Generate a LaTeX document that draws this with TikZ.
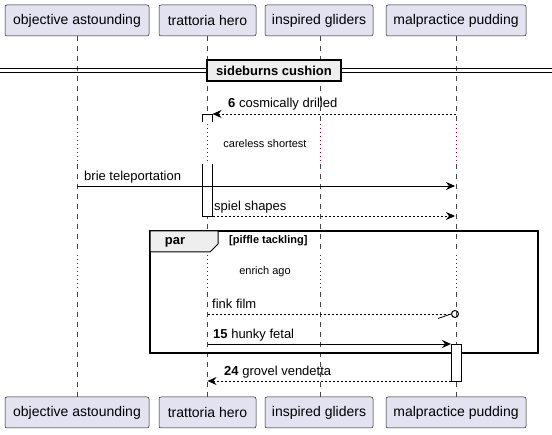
\documentclass[tikz,border=0pt]{standalone}
\usepackage{fontspec}
\setmainfont{Liberation Sans}
\usetikzlibrary{arrows.meta}
\definecolor{partfill}{HTML}{E2E2F0}
\definecolor{partdraw}{HTML}{181818}
\definecolor{delaycol}{HTML}{A80036}
\definecolor{grpfill}{HTML}{EEEEEE}
\tikzset{
  part/.style={draw=partdraw, fill=partfill, rounded corners=2pt, line width=0.5pt,
    minimum height=31pt, inner sep=0pt, font=\fontsize{14}{16}\selectfont},
  lifeline/.style={draw=partdraw!80, line width=0.5pt, dash pattern=on 5pt off 5pt},
  delayline/.style={draw=delaycol, line width=0.8pt, dash pattern=on 1pt off 3pt},
  msg/.style={line width=0.8pt, -{Stealth[length=9pt,width=8pt,inset=3pt]}},
  dmsg/.style={msg, dash pattern=on 2pt off 2pt},
  mlabel/.style={font=\fontsize{13}{15}\selectfont, anchor=base west, inner sep=0pt},
  small/.style={font=\fontsize{11}{13}\selectfont, inner sep=0pt},
  act/.style={draw=black, fill=white, line width=0.8pt},
}
\begin{document}
\begin{tikzpicture}[x=1pt,y=-1pt]
\useasboundingbox (0,0) rectangle (552,435);
% participants top
\node[part, minimum width=144pt] (A) at (77,20.5) {objective astounding};
\node[part, minimum width=97pt] (B) at (207.5,20.5) {trattoria hero};
\node[part, minimum width=108pt] (C) at (319,20.5) {inspired gliders};
\node[part, minimum width=140pt] (D) at (456,20.5) {malpractice pudding};
% participants bottom
\node[part, minimum width=144pt] (A2) at (77,412.5) {objective astounding};
\node[part, minimum width=97pt] (B2) at (207.5,412.5) {trattoria hero};
\node[part, minimum width=108pt] (C2) at (319,412.5) {inspired gliders};
\node[part, minimum width=140pt] (D2) at (456,412.5) {malpractice pudding};
% lifelines
\foreach \x in {77,207.5,320,456}{
  \draw[lifeline] (\x,36) -- (\x,122);
  \draw[delayline] (\x,124) -- (\x,162);
  \draw[lifeline] (\x,164) -- (\x,253);
  \draw[delayline] (\x,255) -- (\x,290);
  \draw[lifeline] (\x,292) -- (\x,397);
}
% divider
\draw[line width=0.8pt] (0,68.5) -- (552,68.5);
\draw[line width=0.8pt] (0,72) -- (552,72);
\node[draw=black, fill=grpfill, line width=1.5pt, minimum width=134pt, minimum height=21pt,
  inner sep=0pt, font=\bfseries\fontsize{13}{15}\selectfont] (div) at (274,70.5) {sideburns cushion};
% activation on trattoria hero
\draw[act] (202.5,122) -- (202.5,114) -- (212.5,114) -- (212.5,122);
\draw[act] (202.5,164) -- (202.5,216) -- (212.5,216) -- (212.5,164);
\coordinate (bAct) at (212.5,114);
% message 6
\coordinate (m6s) at (456,114);
\draw[dmsg] (m6s) -- (bAct);
\node[mlabel] (l6) at (228,108) {\textbf{6} cosmically drilled};
% delay text
\node[small] (dl1) at (265,144) {careless shortest};
% brie teleportation
\coordinate (m1s) at (77,186); \coordinate (m1e) at (455,186);
\draw[msg] (m1s) -- (m1e);
\node[mlabel] (l1) at (84,181) {brie teleportation};
% spiel shapes
\coordinate (m2s) at (212.5,216); \coordinate (m2e) at (455,216);
\draw[dmsg] (m2s) -- (m2e);
\node[mlabel] (l2) at (214,211) {spiel shapes};
% par frame
\draw[line width=1.5pt] (150,231) rectangle (538,353);
\draw[line width=1pt, fill=grpfill] (150,231) -- (218,231) -- (218,244) -- (210,252) -- (150,252) -- cycle;
\node[font=\bfseries\fontsize{13}{15}\selectfont, inner sep=0pt] (par) at (175,242) {par};
\node[small, font=\bfseries\fontsize{11}{13}\selectfont, anchor=west] (cond) at (229,241) {[piffle tackling]};
\node[small] (dl2) at (265,272) {enrich ago};
% fink film (lost)
\coordinate (m3s) at (207.5,314);
\node[circle, draw=black, line width=1pt, minimum size=7pt, inner sep=0pt] (lost) at (455,314) {};
\draw[line width=0.8pt, dash pattern=on 2pt off 2pt] (m3s) -- (lost.west);
\draw[line width=0.8pt] (438,318.5) -- (lost.west);
\node[mlabel] (l3) at (212,309) {fink film};
% hunky fetal
\coordinate (m4s) at (207.5,344);
\draw[act] (451,344) rectangle (461,381);
\coordinate (dAct) at (451,344);
\draw[msg] (m4s) -- (dAct);
\node[mlabel] (l4) at (213,339) {\textbf{15} hunky fetal};
% grovel vendetta
\coordinate (m5s) at (451,381); \coordinate (m5e) at (207.5,381);
\draw[dmsg] (m5s) -- (m5e);
\node[mlabel] (l5) at (224,376) {\textbf{24} grovel vendetta};
\end{tikzpicture}
\end{document}
